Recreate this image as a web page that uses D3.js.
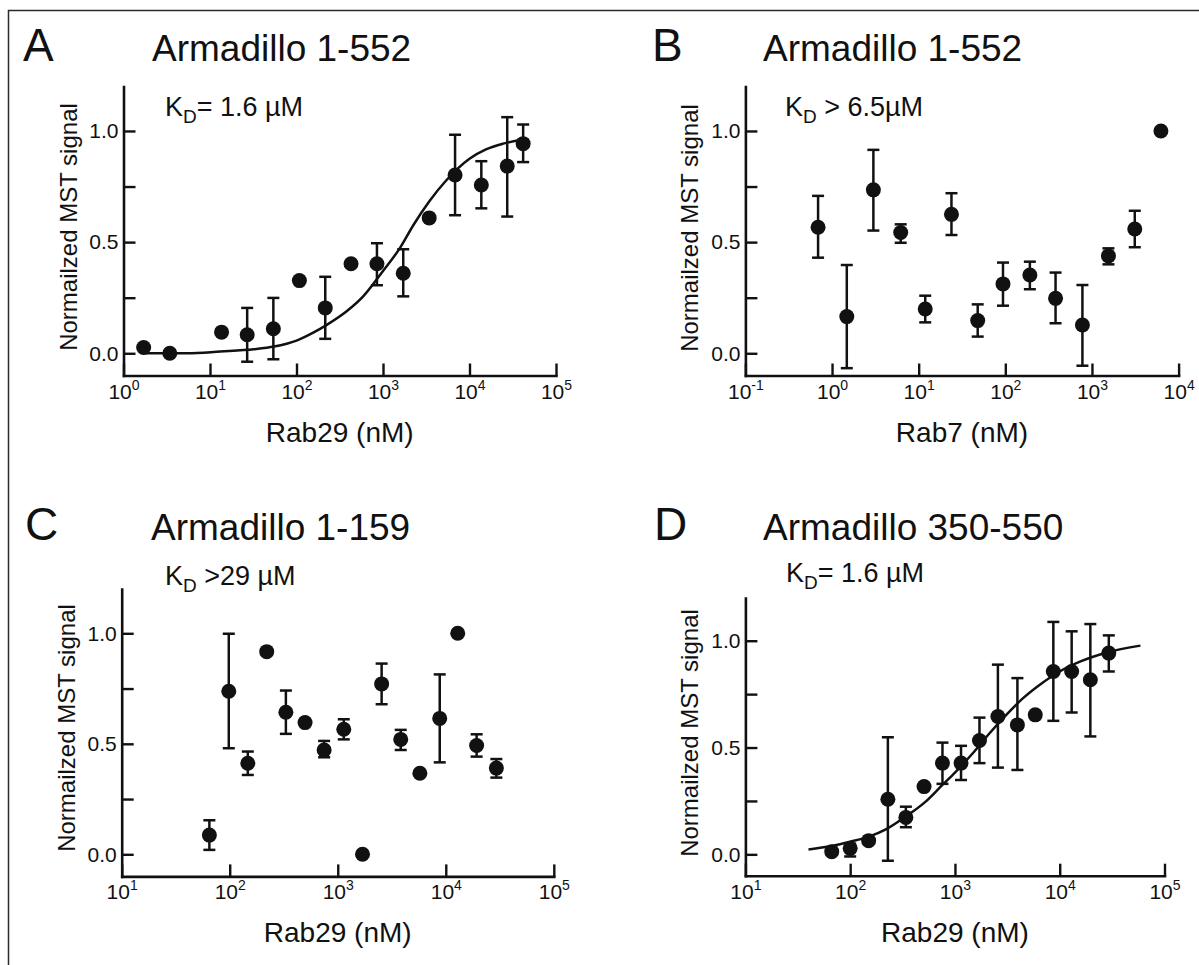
<!DOCTYPE html>
<html>
<head>
<meta charset="utf-8">
<script src="https://cdn.jsdelivr.net/npm/d3@7"></script>
<style>
body{margin:0;background:#fff;}
svg text{font-family:"Liberation Sans",Arial,Helvetica,sans-serif;fill:#111;}
</style>
</head>
<body>
<div id="chart"></div>
<script>
const WIDTH = 1199, HEIGHT = 965;

// A: Armadillo 1-552 vs Rab29
const concA = [1.71, 3.43, 13.6, 26.9, 54, 108, 215, 427, 851, 1714, 3420, 6810, 13700, 27300, 41700];
const signalA = [0.026, 0.0, 0.095, 0.083, 0.11, 0.327, 0.204, 0.403, 0.403, 0.36, 0.609, 0.802, 0.757, 0.842, 0.943];
const lowA = [null, null, null, -0.038, -0.027, null, 0.065, null, 0.306, 0.256, null, 0.621, 0.652, 0.615, 0.86];
const highA = [null, null, null, 0.204, 0.249, null, 0.344, null, 0.495, 0.468, null, 0.983, 0.864, 1.062, 1.029];
const fitConcA = [1.74, 5.5, 13.2, 32, 55, 100, 158, 224, 380, 590, 1000, 1580, 2240, 3470, 5370, 10000, 15500, 24500, 41700];
const fitSignalA = [0.0, 0.0, 0.008, 0.018, 0.03, 0.057, 0.094, 0.128, 0.189, 0.256, 0.37, 0.475, 0.576, 0.686, 0.777, 0.875, 0.917, 0.943, 0.962];

// B: Armadillo 1-552 vs Rab7
const concB = [0.69, 1.48, 3.0, 6.2, 11.9, 23.9, 48, 94, 192, 380, 776, 1550, 3120, 6250];
const signalB = [0.567, 0.165, 0.735, 0.543, 0.199, 0.625, 0.147, 0.312, 0.352, 0.247, 0.127, 0.438, 0.559, 1.0];
const lowB = [0.43, -0.067, 0.552, 0.497, 0.139, 0.532, 0.075, 0.214, 0.288, 0.135, -0.056, 0.4, 0.477, null];
const highB = [0.708, 0.397, 0.915, 0.58, 0.259, 0.72, 0.22, 0.408, 0.412, 0.363, 0.307, 0.472, 0.641, null];

// C: Armadillo 1-159 vs Rab29
const concC = [64.8, 98, 147, 220, 331, 498, 748, 1137, 1695, 2548, 3828, 5757, 8790, 12900, 19300, 29400];
const signalC = [0.087, 0.738, 0.412, 0.917, 0.643, 0.596, 0.472, 0.566, 0.0, 0.771, 0.52, 0.367, 0.615, 1.0, 0.492, 0.39];
const lowC = [0.02, 0.48, 0.359, null, 0.545, null, 0.439, 0.52, null, 0.679, 0.472, null, 0.416, null, 0.442, 0.347];
const highC = [0.154, 0.998, 0.465, null, 0.741, null, 0.513, 0.611, null, 0.863, 0.563, null, 0.814, null, 0.543, 0.431];

// D: Armadillo 350-550 vs Rab29
const concD = [66.7, 100, 150, 229, 340, 507, 760, 1143, 1714, 2570, 3945, 5840, 8690, 13000, 19600, 29400];
const signalD = [0.0125, 0.028, 0.064, 0.258, 0.173, 0.317, 0.427, 0.427, 0.533, 0.645, 0.606, 0.653, 0.856, 0.856, 0.817, 0.942];
const lowD = [null, -0.01, null, -0.03, 0.127, null, 0.33, 0.348, 0.427, 0.406, 0.395, null, 0.625, 0.664, 0.552, 0.856];
const highD = [null, 0.05, null, 0.548, 0.223, null, 0.523, 0.508, 0.64, 0.888, 0.825, null, 1.088, 1.044, 1.078, 1.025];
const fitConcD = [40, 66, 100, 151, 219, 339, 525, 759, 1000, 1480, 2140, 3090, 4470, 6460, 10000, 15800, 28200, 58900];
const fitSignalD = [0.023, 0.039, 0.059, 0.083, 0.117, 0.177, 0.247, 0.325, 0.383, 0.473, 0.567, 0.653, 0.731, 0.794, 0.856, 0.903, 0.945, 0.977];

const yTicks = [0, 0.25, 0.5, 0.75, 1];
const yLabel = "Normailzed MST signal";

const panels = [
    {letter:"A", title:"Armadillo 1-552", kd:["K","D","= 1.6 µM"], xLabel:"Rab29 (nM)",
     conc:concA, signal:signalA, low:lowA, high:highA, fitConc:fitConcA, fitSignal:fitSignalA,
     xDomain:[1, 1e5], xTicks:[1,10,100,1e3,1e4,1e5],
     left:123.5, right:556, bottom:375.5, top:86.5,
     letterX:23, titleX:152, headY:61, kdX:165, kdY:116, yLabelY:227},
    {letter:"B", title:"Armadillo 1-552", kd:["K","D"," > 6.5µM"], xLabel:"Rab7 (nM)",
     conc:concB, signal:signalB, low:lowB, high:highB,
     xDomain:[0.1, 1e4], xTicks:[0.1,1,10,100,1e3,1e4],
     left:745.4, right:1178.6, bottom:375.5, top:86.5,
     letterX:652, titleX:763, headY:61, kdX:785, kdY:116, yLabelY:228},
    {letter:"C", title:"Armadillo 1-159", kd:["K","D"," >29 µM"], xLabel:"Rab29 (nM)",
     conc:concC, signal:signalC, low:lowC, high:highC,
     xDomain:[10, 1e5], xTicks:[10,100,1e3,1e4,1e5],
     left:121.7, right:553.8, bottom:876.4, top:589.1,
     letterX:25, titleX:151, headY:540, kdX:165, kdY:585, yLabelY:728},
    {letter:"D", title:"Armadillo 350-550", kd:["K","D","= 1.6 µM"], xLabel:"Rab29 (nM)",
     conc:concD, signal:signalD, low:lowD, high:highD, fitConc:fitConcD, fitSignal:fitSignalD,
     xDomain:[10, 1e5], xTicks:[10,100,1e3,1e4,1e5],
     left:745.4, right:1164.5, bottom:875.7, top:598,
     letterX:654, titleX:763, headY:540, kdX:786, kdY:582, yLabelY:733}
];

const svg = d3.select("#chart").append("svg")
    .attr("width", WIDTH)
    .attr("height", HEIGHT);

svg.append("rect").attr("width", WIDTH).attr("height", HEIGHT).attr("fill", "#fff");

// frame (only top and left edges are in the picture)
svg.append("path")
    .attr("d", `M8.5,${HEIGHT} V10.5 H${WIDTH}`)
    .attr("fill", "none")
    .attr("stroke", "#2b2b2b")
    .attr("stroke-width", 1.5);

function drawPanel(p){
    const g = svg.append("g");
    const x = d3.scaleLog().domain(p.xDomain).range([p.left, p.right]);
    const y = d3.scaleLinear().domain([-0.1, 1.2]).range([p.bottom, p.top]);

    // headings
    g.append("text").attr("x", p.letterX).attr("y", p.headY)
        .attr("font-size", 46).text(p.letter);
    g.append("text").attr("x", p.titleX).attr("y", p.headY)
        .attr("font-size", 37).text(p.title);
    const kd = g.append("text").attr("x", p.kdX).attr("y", p.kdY).attr("font-size", 27);
    kd.append("tspan").text(p.kd[0]);
    kd.append("tspan").attr("font-size", 19).attr("dy", 7).text(p.kd[1]);
    kd.append("tspan").attr("dy", -7).text(p.kd[2]);

    // axes
    const xAxis = d3.axisBottom(x).tickValues(p.xTicks)
        .tickSizeInner(-12).tickSizeOuter(0);
    const gx = g.append("g")
        .attr("transform", `translate(0,${p.bottom})`)
        .call(xAxis);
    gx.selectAll(".tick text").text(null)
        .attr("dy", null).attr("y", 23)
        .attr("font-size", 21)
        .call(t => {
            t.append("tspan").text("10");
            t.append("tspan").attr("dy", -9).attr("font-size", 14)
                .text(d => Math.round(Math.log10(d)));
        });

    const yAxis = d3.axisLeft(y).tickValues(yTicks)
        .tickSizeInner(-12).tickSizeOuter(0).tickPadding(5)
        .tickFormat(d => d % 0.5 === 0 ? d.toFixed(1) : "");
    const gy = g.append("g")
        .attr("transform", `translate(${p.left},0)`)
        .call(yAxis);
    gy.selectAll(".tick text").attr("font-size", 21);

    [gx, gy].forEach(a => {
        a.attr("font-family", null).attr("color", "#111");
        a.select(".domain").attr("stroke-width", 2.6).attr("stroke-linecap", "square");
        a.selectAll(".tick line").attr("stroke-width", 2.4);
    });

    g.append("text")
        .attr("transform", `translate(${p.left - 47},${p.yLabelY}) rotate(-90)`)
        .attr("text-anchor", "middle")
        .attr("font-size", 24)
        .text(yLabel);

    g.append("text")
        .attr("x", (p.left + p.right) / 2)
        .attr("y", p.bottom + 66)
        .attr("text-anchor", "middle")
        .attr("font-size", 28)
        .text(p.xLabel);

    // fitted curve
    if (p.fitConc){
        const fit = p.fitConc.map((c, i) => [c, p.fitSignal[i]]);
        g.append("path")
            .datum(fit)
            .attr("fill", "none")
            .attr("stroke", "#111")
            .attr("stroke-width", 2.5)
            .attr("d", d3.line().x(d => x(d[0])).y(d => y(d[1])).curve(d3.curveMonotoneX));
    }

    const pts = p.conc.map((c, i) => ({c:c, v:p.signal[i], lo:p.low[i], hi:p.high[i]}));
    const bars = pts.filter(d => d.lo !== null);

    const eb = g.append("g").attr("stroke", "#111").attr("stroke-width", 2.5);
    eb.selectAll(".stem").data(bars).enter().append("line")
        .attr("x1", d => x(d.c)).attr("x2", d => x(d.c))
        .attr("y1", d => y(d.lo)).attr("y2", d => y(d.hi));
    eb.selectAll(".capHi").data(bars).enter().append("line")
        .attr("x1", d => x(d.c) - 6).attr("x2", d => x(d.c) + 6)
        .attr("y1", d => y(d.hi)).attr("y2", d => y(d.hi));
    eb.selectAll(".capLo").data(bars).enter().append("line")
        .attr("x1", d => x(d.c) - 6).attr("x2", d => x(d.c) + 6)
        .attr("y1", d => y(d.lo)).attr("y2", d => y(d.lo));

    g.selectAll("circle").data(pts).enter().append("circle")
        .attr("cx", d => x(d.c))
        .attr("cy", d => y(d.v))
        .attr("r", 7.5)
        .attr("fill", "#111");
}

panels.forEach(drawPanel);
</script>
</body>
</html>
